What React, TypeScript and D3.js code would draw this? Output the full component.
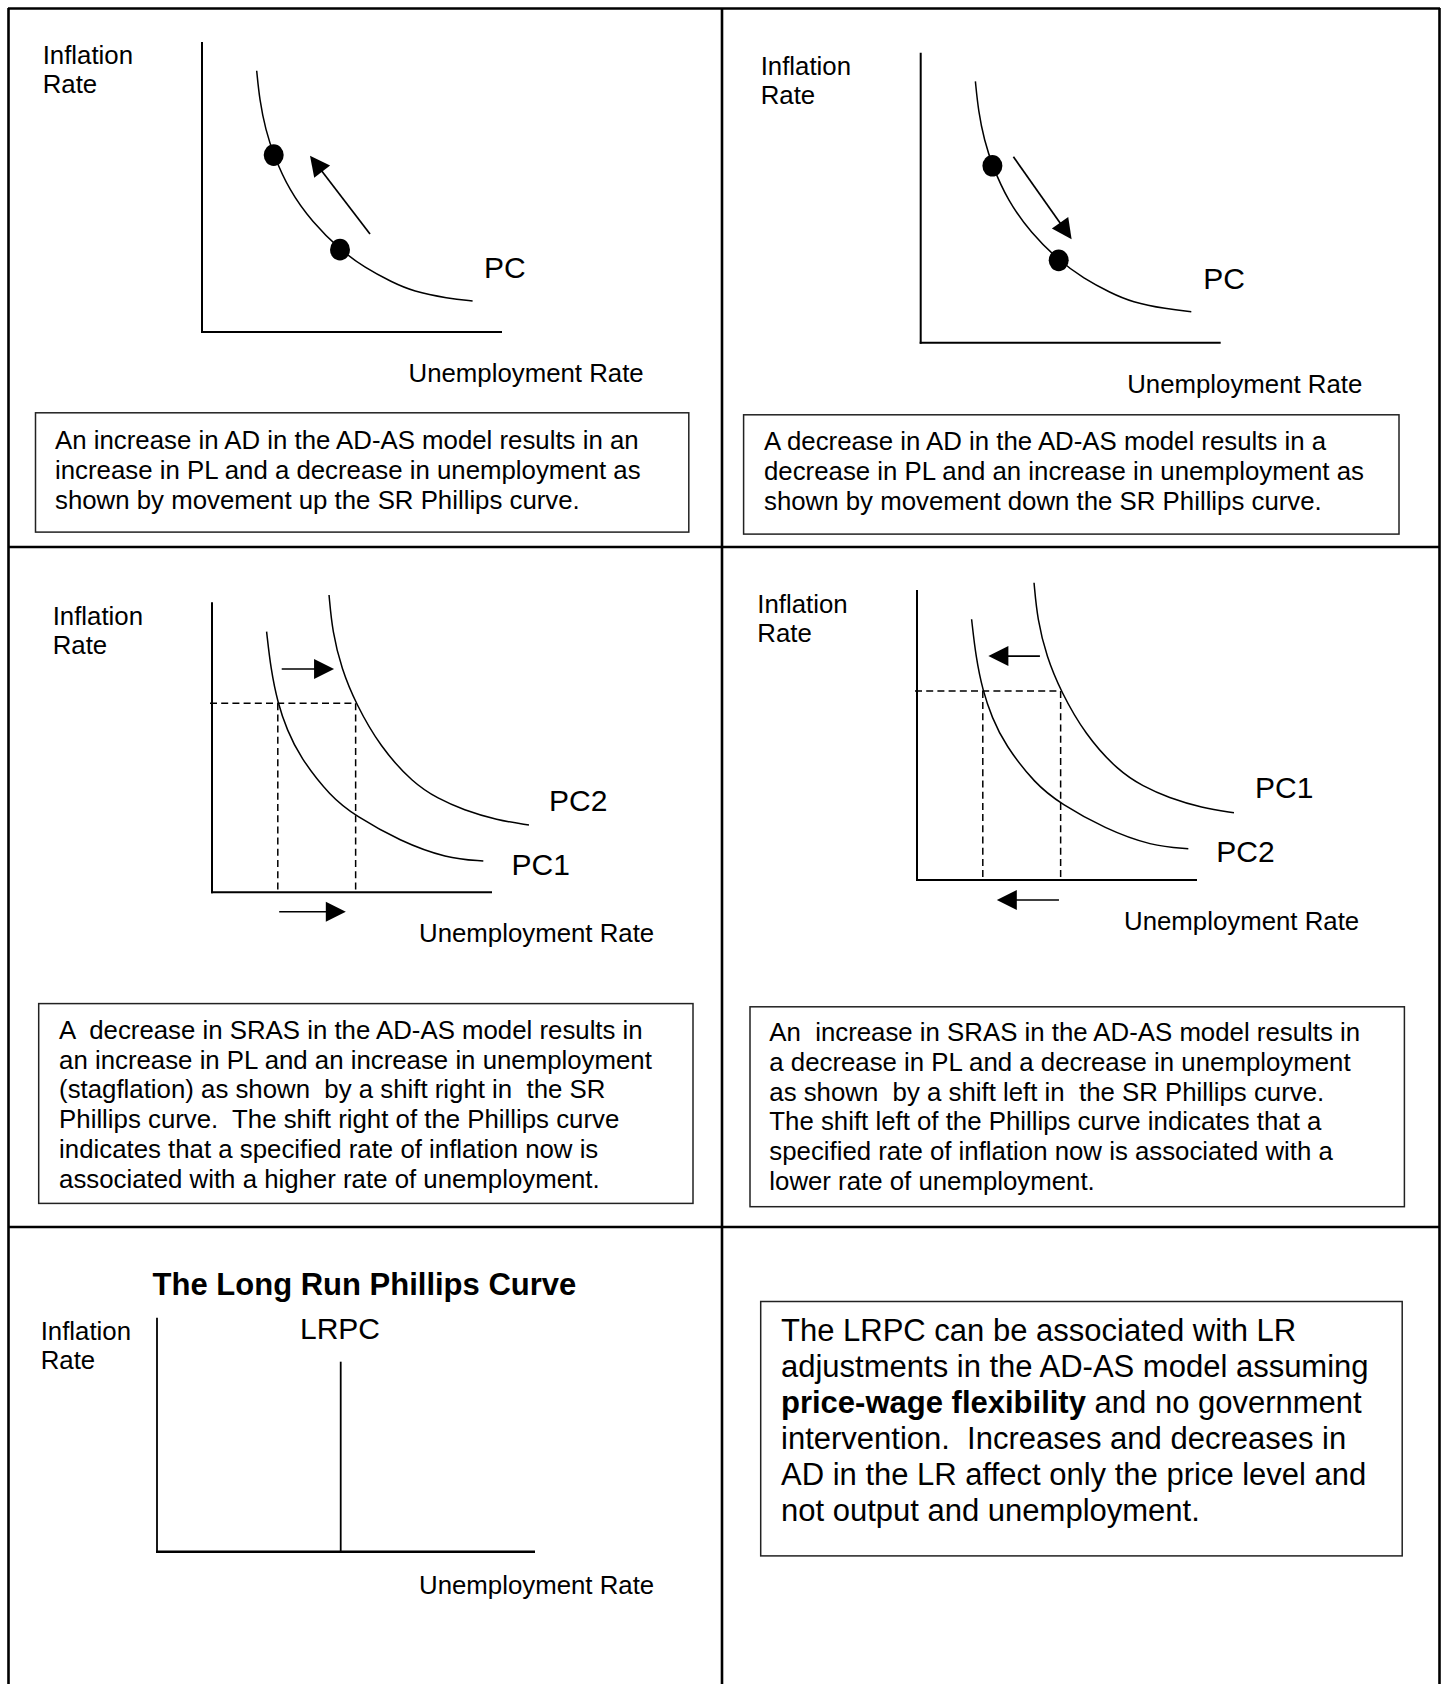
import React, { useEffect } from 'react';
import * as d3 from 'd3';

const W = 1442;
const H = 1684;
const FONT = '"Liberation Sans", Arial, Helvetica, sans-serif';

// ---------------- DATA (abstract units: unemployment 0-10, inflation 0-10) ----------------
const pcCurve: [number, number][] = [
  [1.823, 9.01], [1.92, 8.0], [2.12, 6.97], [2.39, 6.1], [2.9, 4.9], [3.67, 3.79],
  [4.6, 2.84], [5.43, 2.21], [6.33, 1.72], [7.03, 1.4], [8.2, 1.16], [9.02, 1.07],
];
const pcDots: [number, number][] = [[2.39, 6.1], [4.6, 2.84]];
const moveUpArrow: [number, number][] = [[5.6, 3.38], [3.6, 6.08]];
const moveDownArrow: [number, number][] = [[3.09, 6.41], [5.03, 3.57]];

const pcLower: [number, number][] = [
  [1.95, 8.99], [2.1, 7.7], [2.35, 6.52], [2.68, 5.6], [3.13, 4.68], [4.23, 3.3],
  [5.13, 2.63], [6.71, 1.77], [8.38, 1.17], [9.69, 1.08],
];
const pcUpper: [number, number][] = [
  [4.18, 10.25], [4.3, 8.98], [4.63, 7.7], [5.13, 6.52], [6.0, 5.02], [7.19, 3.76],
  [8.07, 3.23], [8.98, 2.84], [10.17, 2.49], [11.32, 2.32],
];
const fixedInflation = 6.52;
const unemploymentLevels = [2.35, 5.13];
const shiftRightArrows = [
  { y: 7.7, from: 2.49, to: 4.36 },
  { y: -0.67, from: 2.4, to: 4.78 },
];
const shiftLeftArrows = [
  { y: 7.72, from: 4.39, to: 2.55 },
  { y: -0.69, from: 5.07, to: 2.85 },
];
const lrpcUnemployment = 4.86;
const lrpcTop = 8.12;

const axisLabels = ['Inflation', 'Rate'];
const xAxisLabel = 'Unemployment Rate';

const box1Lines = [
  'An increase in AD in the AD-AS model results in an',
  'increase in PL and a decrease in unemployment as',
  'shown by movement up the SR Phillips curve.',
];
const box2Lines = [
  'A decrease in AD in the AD-AS model results in a',
  'decrease in PL and an increase in unemployment as',
  'shown by movement down the SR Phillips curve.',
];
const box3Lines = [
  'A  decrease in SRAS in the AD-AS model results in',
  'an increase in PL and an increase in unemployment',
  '(stagflation) as shown  by a shift right in  the SR',
  'Phillips curve.  The shift right of the Phillips curve',
  'indicates that a specified rate of inflation now is',
  'associated with a higher rate of unemployment.',
];
const box4Lines = [
  'An  increase in SRAS in the AD-AS model results in',
  'a decrease in PL and a decrease in unemployment',
  'as shown  by a shift left in  the SR Phillips curve.',
  'The shift left of the Phillips curve indicates that a',
  'specified rate of inflation now is associated with a',
  'lower rate of unemployment.',
];
const box6Lines: { t: string; b?: boolean }[][] = [
  [{ t: 'The LRPC can be associated with LR' }],
  [{ t: 'adjustments in the AD-AS model assuming' }],
  [{ t: 'price-wage flexibility', b: true }, { t: ' and no government' }],
  [{ t: 'intervention.  Increases and decreases in' }],
  [{ t: 'AD in the LR affect only the price level and' }],
  [{ t: 'not output and unemployment.' }],
];
const lrTitle = 'The Long Run Phillips Curve';

// ---------------- LAYOUT ----------------
type Panel = { x0: number; x1: number; y0: number; y1: number };
const P1: Panel = { x0: 202, x1: 502, y0: 332, y1: 42 };
const P2: Panel = { x0: 920.7, x1: 1220.7, y0: 342.7, y1: 52.7 };
const P3: Panel = { x0: 212, x1: 492, y0: 892.3, y1: 602.3 };
const P4: Panel = { x0: 917, x1: 1197, y0: 880, y1: 590 };
const P5: Panel = { x0: 157, x1: 535, y0: 1551.7, y1: 1317.7 };

const scales = (p: Panel) => ({
  x: d3.scaleLinear().domain([0, 10]).range([p.x0, p.x1]),
  y: d3.scaleLinear().domain([0, 10]).range([p.y0, p.y1]),
});

const BODY = 25.8;

function Arrow({ x1, y1, x2, y2, len = 20, hw = 10, sw = 1.7 }: any) {
  const dx = x2 - x1, dy = y2 - y1;
  const L = Math.hypot(dx, dy);
  const ux = dx / L, uy = dy / L;
  const bx = x2 - ux * len, by = y2 - uy * len;
  const px = -uy, py = ux;
  return (
    <g>
      <line x1={x1} y1={y1} x2={bx + ux} y2={by + uy} stroke="#000" strokeWidth={sw} />
      <polygon
        points={`${x2},${y2} ${bx + px * hw},${by + py * hw} ${bx - px * hw},${by - py * hw}`}
        fill="#000"
      />
    </g>
  );
}

function Axes({ p, sw = 2, xsw }: { p: Panel; sw?: number; xsw?: number }) {
  const { x, y } = scales(p);
  return (
    <g>
      <line x1={x(0)} y1={y(10)} x2={x(0)} y2={y(0) + 1} stroke="#000" strokeWidth={sw} />
      <line x1={x(0) - 1} y1={y(0)} x2={x(10)} y2={y(0)} stroke="#000" strokeWidth={xsw ?? sw} />
    </g>
  );
}

function Labels({ ix, iy, ux, uy }: { ix: number; iy: number; ux: number; uy: number }) {
  return (
    <g fontFamily={FONT} fontSize={BODY} fill="#000">
      <text x={ix} y={iy}>{axisLabels[0]}</text>
      <text x={ix} y={iy + 28.7}>{axisLabels[1]}</text>
      <text x={ux} y={uy}>{xAxisLabel}</text>
    </g>
  );
}

function TextBox({ x, y, w, h, tx, ty, lh, lines, fs = BODY }: any) {
  return (
    <g>
      <rect x={x} y={y} width={w} height={h} fill="#fff" stroke="#222" strokeWidth={1.5} />
      <g fontFamily={FONT} fontSize={fs} fill="#000">
        {lines.map((ln: any, i: number) => (
          <text key={i} x={tx} y={ty + i * lh} style={{ whiteSpace: 'pre' }}>
            {typeof ln === 'string'
              ? ln
              : ln.map((s: any, j: number) => (
                  <tspan key={j} fontWeight={s.b ? 'bold' : 'normal'}>{s.t}</tspan>
                ))}
          </text>
        ))}
      </g>
    </g>
  );
}

function CurvePath({ p, data }: { p: Panel; data: [number, number][] }) {
  const { x, y } = scales(p);
  const line = d3
    .line<[number, number]>()
    .x((d) => x(d[0]))
    .y((d) => y(d[1]))
    .curve(d3.curveBasis);
  return <path d={line(data) || ''} fill="none" stroke="#000" strokeWidth={1.5} />;
}

function MovementPanel({ p, arrow, label }: { p: Panel; arrow: [number, number][]; label: [number, number] }) {
  const { x, y } = scales(p);
  return (
    <g>
      <Axes p={p} />
      <CurvePath p={p} data={pcCurve} />
      {pcDots.map((d, i) => (
        <ellipse key={i} cx={x(d[0])} cy={y(d[1])} rx={10} ry={10.8} fill="#000" />
      ))}
      <Arrow x1={x(arrow[0][0])} y1={y(arrow[0][1])} x2={x(arrow[1][0])} y2={y(arrow[1][1])} />
      <text x={label[0]} y={label[1]} fontFamily={FONT} fontSize={30}>PC</text>
    </g>
  );
}

function ShiftPanel({ p, arrows, lowerName, upperName, lowerLbl, upperLbl }: any) {
  const { x, y } = scales(p);
  const dash = '7,4.2';
  return (
    <g>
      <Axes p={p} />
      <line x1={x(0) - 2} y1={y(fixedInflation)} x2={x(unemploymentLevels[1])} y2={y(fixedInflation)}
        stroke="#000" strokeWidth={1.5} strokeDasharray={dash} />
      {unemploymentLevels.map((u, i) => (
        <line key={i} x1={x(u)} y1={y(fixedInflation)} x2={x(u)} y2={y(0)}
          stroke="#000" strokeWidth={1.5} strokeDasharray={dash} />
      ))}
      <CurvePath p={p} data={pcLower} />
      <CurvePath p={p} data={pcUpper} />
      {arrows.map((a: any, i: number) => (
        <Arrow key={i} x1={x(a.from)} y1={y(a.y)} x2={x(a.to)} y2={y(a.y)} />
      ))}
      <g fontFamily={FONT} fontSize={30}>
        <text x={upperLbl[0]} y={upperLbl[1]}>{upperName}</text>
        <text x={lowerLbl[0]} y={lowerLbl[1]}>{lowerName}</text>
      </g>
    </g>
  );
}

function LRPanel({ p }: { p: Panel }) {
  const { x, y } = scales(p);
  return (
    <g>
      <Axes p={p} sw={1.8} xsw={2.6} />
      <line x1={x(lrpcUnemployment)} y1={y(lrpcTop)} x2={x(lrpcUnemployment)} y2={y(0)} stroke="#000" strokeWidth={1.8} />
      <text x={300} y={1339.3} fontFamily={FONT} fontSize={30}>LRPC</text>
      <text x={152.6} y={1294.5} fontFamily={FONT} fontSize={31} fontWeight="bold">{lrTitle}</text>
    </g>
  );
}

export default function App() {
  useEffect(() => {
    document.body.style.margin = '0';
    document.body.style.overflow = 'hidden';
  }, []);
  const fw = 2.6;
  return (
    <div style={{ position: 'absolute', left: 0, top: 0, width: W, height: H, overflow: 'hidden', background: '#fff' }}>
      <svg width={W} height={H} viewBox={`0 0 ${W} ${H}`} style={{ display: 'block' }}>
        <rect x={0} y={0} width={W} height={H} fill="#fff" />
        {/* frame */}
        <g stroke="#000" strokeWidth={fw}>
          <line x1={8} y1={8.5} x2={1440} y2={8.5} />
          <line x1={8.5} y1={8} x2={8.5} y2={H} />
          <line x1={1439.5} y1={8} x2={1439.5} y2={H} />
          <line x1={722} y1={8} x2={722} y2={H} />
          <line x1={8} y1={547} x2={1440} y2={547} />
          <line x1={8} y1={1227} x2={1440} y2={1227} />
        </g>

        {/* Panel 1 */}
        <Labels ix={42.7} iy={64} ux={408.5} uy={382} />
        <MovementPanel p={P1} arrow={moveUpArrow} label={[484, 277.7]} />
        <TextBox x={35.5} y={412.8} w={653.3} h={119.3} tx={55} ty={448.7} lh={29.9} lines={box1Lines} />

        {/* Panel 2 */}
        <Labels ix={760.7} iy={75} ux={1127.2} uy={392.8} />
        <MovementPanel p={P2} arrow={moveDownArrow} label={[1203.3, 289.3]} />
        <TextBox x={743.6} y={414.8} w={655.4} h={119.3} tx={764} ty={449.8} lh={29.9} lines={box2Lines} />

        {/* Panel 3 */}
        <Labels ix={52.7} iy={624.9} ux={419} uy={941.9} />
        <ShiftPanel p={P3} arrows={shiftRightArrows} lowerName="PC1" upperName="PC2"
          lowerLbl={[511.5, 875.3]} upperLbl={[549, 810.8]} />
        <TextBox x={38.7} y={1003.6} w={654.3} h={199.8} tx={59.1} ty={1038.6} lh={29.9} lines={box3Lines} />

        {/* Panel 4 */}
        <Labels ix={757.3} iy={613.1} ux={1124} uy={930} />
        <ShiftPanel p={P4} arrows={shiftLeftArrows} lowerName="PC2" upperName="PC1"
          lowerLbl={[1216.3, 862.4]} upperLbl={[1255, 797.9]} />
        <TextBox x={750} y={1006.8} w={654.4} h={199.9} tx={769.3} ty={1040.7} lh={29.9} lines={box4Lines} />

        {/* Panel 5 */}
        <Labels ix={40.7} iy={1340} ux={419} uy={1594} />
        <LRPanel p={P5} />

        {/* Panel 6 */}
        <TextBox x={760.7} y={1301.5} w={641.5} h={254.4} tx={781} ty={1341.3} lh={35.9} lines={box6Lines} fs={31} />
      </svg>
    </div>
  );
}
